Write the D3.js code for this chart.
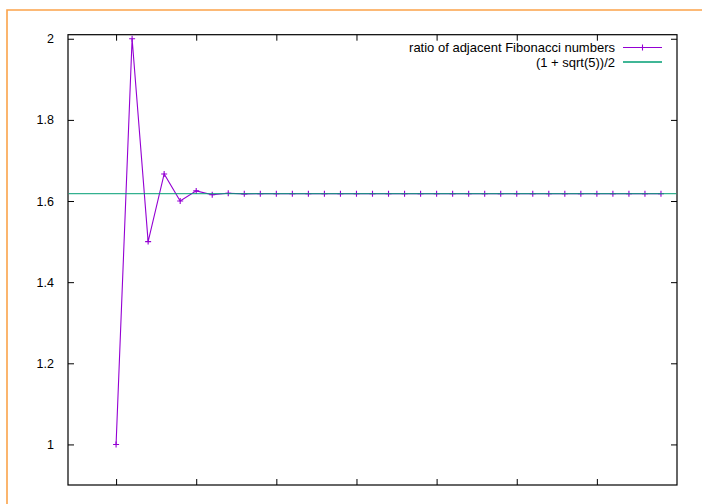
<!DOCTYPE html>
<html>
<head>
<meta charset="utf-8">
<script src="https://cdn.jsdelivr.net/npm/d3@7"></script>
<style>
  body { margin: 0; background: #fff; }
  svg { display: block; font-family: "Liberation Sans", Arial, sans-serif; }
</style>
</head>
<body>
<script>
// term index n and ratio F(n+2)/F(n+1)
var terms = [0, 1, 2, 3, 4, 5, 6, 7, 8, 9, 10, 11, 12, 13, 14, 15, 16, 17,
  18, 19, 20, 21, 22, 23, 24, 25, 26, 27, 28, 29, 30, 31, 32, 33, 34];
var ratios = [1, 2, 1.5, 1.66667, 1.6, 1.625, 1.61538, 1.61905, 1.61765,
  1.61818, 1.61798, 1.61806, 1.61803, 1.61804, 1.61803, 1.61803, 1.61803,
  1.61803, 1.61803, 1.61803, 1.61803, 1.61803, 1.61803, 1.61803, 1.61803,
  1.61803, 1.61803, 1.61803, 1.61803, 1.61803, 1.61803, 1.61803, 1.61803,
  1.61803, 1.61803];
var goldenRatio = 1.618034;
var xTicks = [0, 5, 10, 15, 20, 25, 30];
var yTicks = [1, 1.2, 1.4, 1.6, 1.8, 2];
var legendLabels = ["ratio of adjacent Fibonacci numbers", "(1 + sqrt(5))/2"];

var W = 702, H = 504;
var plot = {left: 68, right: 677, top: 34.7, bottom: 485};

var svg = d3.select("body").append("svg")
  .attr("width", W)
  .attr("height", H);

// orange frame (only top and left edges fall inside the window)
svg.append("path")
  .attr("d", "M7,504 V10 H702")
  .attr("fill", "none")
  .attr("stroke", "#fba34a")
  .attr("stroke-width", 1.6);

var x = d3.scaleLinear().domain([-3, 35]).range([plot.left, plot.right]);
var y = d3.scaleLinear().domain([0.9, 2.01]).range([plot.bottom, plot.top]);

var tickLen = 6;

// bottom axis, no labels
svg.append("g")
  .attr("transform", "translate(0," + plot.bottom + ")")
  .call(d3.axisBottom(x).tickValues(xTicks).tickSize(-tickLen).tickFormat(""))
  .call(function(g) { g.select(".domain").remove(); });
// top mirror ticks
svg.append("g")
  .attr("transform", "translate(0," + plot.top + ")")
  .call(d3.axisTop(x).tickValues(xTicks).tickSize(-tickLen).tickFormat(""))
  .call(function(g) { g.select(".domain").remove(); });
// left axis
svg.append("g")
  .attr("transform", "translate(" + plot.left + ",0)")
  .call(d3.axisLeft(y).tickValues(yTicks).tickSize(-tickLen).tickPadding(14)
    .tickFormat(d3.format("~g")))
  .call(function(g) {
    g.select(".domain").remove();
    g.selectAll("text").attr("font-size", 12.5).attr("fill", "#000")
      .attr("font-family", "Liberation Sans, Arial, sans-serif");
  });
// right mirror ticks
svg.append("g")
  .attr("transform", "translate(" + plot.right + ",0)")
  .call(d3.axisRight(y).tickValues(yTicks).tickSize(-tickLen).tickFormat(""))
  .call(function(g) { g.select(".domain").remove(); });

svg.selectAll(".tick line").attr("stroke", "#000").attr("stroke-width", 1);

// border
svg.append("rect")
  .attr("x", plot.left).attr("y", plot.top)
  .attr("width", plot.right - plot.left)
  .attr("height", plot.bottom - plot.top)
  .attr("fill", "none")
  .attr("stroke", "#000")
  .attr("stroke-width", 1.2);

var purple = "#9400d3", green = "#009e73";

var pts = terms.map(function(n, i) { return [n, ratios[i]]; });

var line = d3.line()
  .x(function(d) { return x(d[0]); })
  .y(function(d) { return y(d[1]); });

svg.append("path")
  .datum(pts)
  .attr("d", line)
  .attr("fill", "none")
  .attr("stroke", purple)
  .attr("stroke-width", 1.1);

var ms = 3;
svg.append("g").selectAll("path")
  .data(pts)
  .enter().append("path")
  .attr("d", function(d) {
    var cx = x(d[0]), cy = y(d[1]);
    return "M" + (cx - ms) + "," + cy + "H" + (cx + ms) +
      "M" + cx + "," + (cy - ms) + "V" + (cy + ms);
  })
  .attr("stroke", purple)
  .attr("stroke-width", 1.1);

// golden ratio line
svg.append("line")
  .attr("x1", plot.left + 0.6).attr("x2", plot.right - 0.6)
  .attr("y1", y(goldenRatio)).attr("y2", y(goldenRatio))
  .attr("stroke", green)
  .attr("stroke-width", 1.3)
  .attr("stroke-opacity", 0.8);

// legend
var legend = svg.append("g");
var rowY = [47.5, 62];
legend.selectAll("text")
  .data(legendLabels)
  .enter().append("text")
  .attr("x", 615)
  .attr("y", function(d, i) { return rowY[i]; })
  .attr("dy", "0.35em")
  .attr("text-anchor", "end")
  .attr("font-size", 13)
  .text(function(d) { return d; });

legend.append("line")
  .attr("x1", 623).attr("x2", 662)
  .attr("y1", rowY[0]).attr("y2", rowY[0])
  .attr("stroke", purple).attr("stroke-width", 1.1);
legend.append("path")
  .attr("d", "M" + (642.5 - ms) + "," + rowY[0] + "H" + (642.5 + ms) +
    "M642.5," + (rowY[0] - ms) + "V" + (rowY[0] + ms))
  .attr("stroke", purple).attr("stroke-width", 1.1);
legend.append("line")
  .attr("x1", 623).attr("x2", 662)
  .attr("y1", rowY[1]).attr("y2", rowY[1])
  .attr("stroke", green).attr("stroke-width", 1.3);
</script>
</body>
</html>
